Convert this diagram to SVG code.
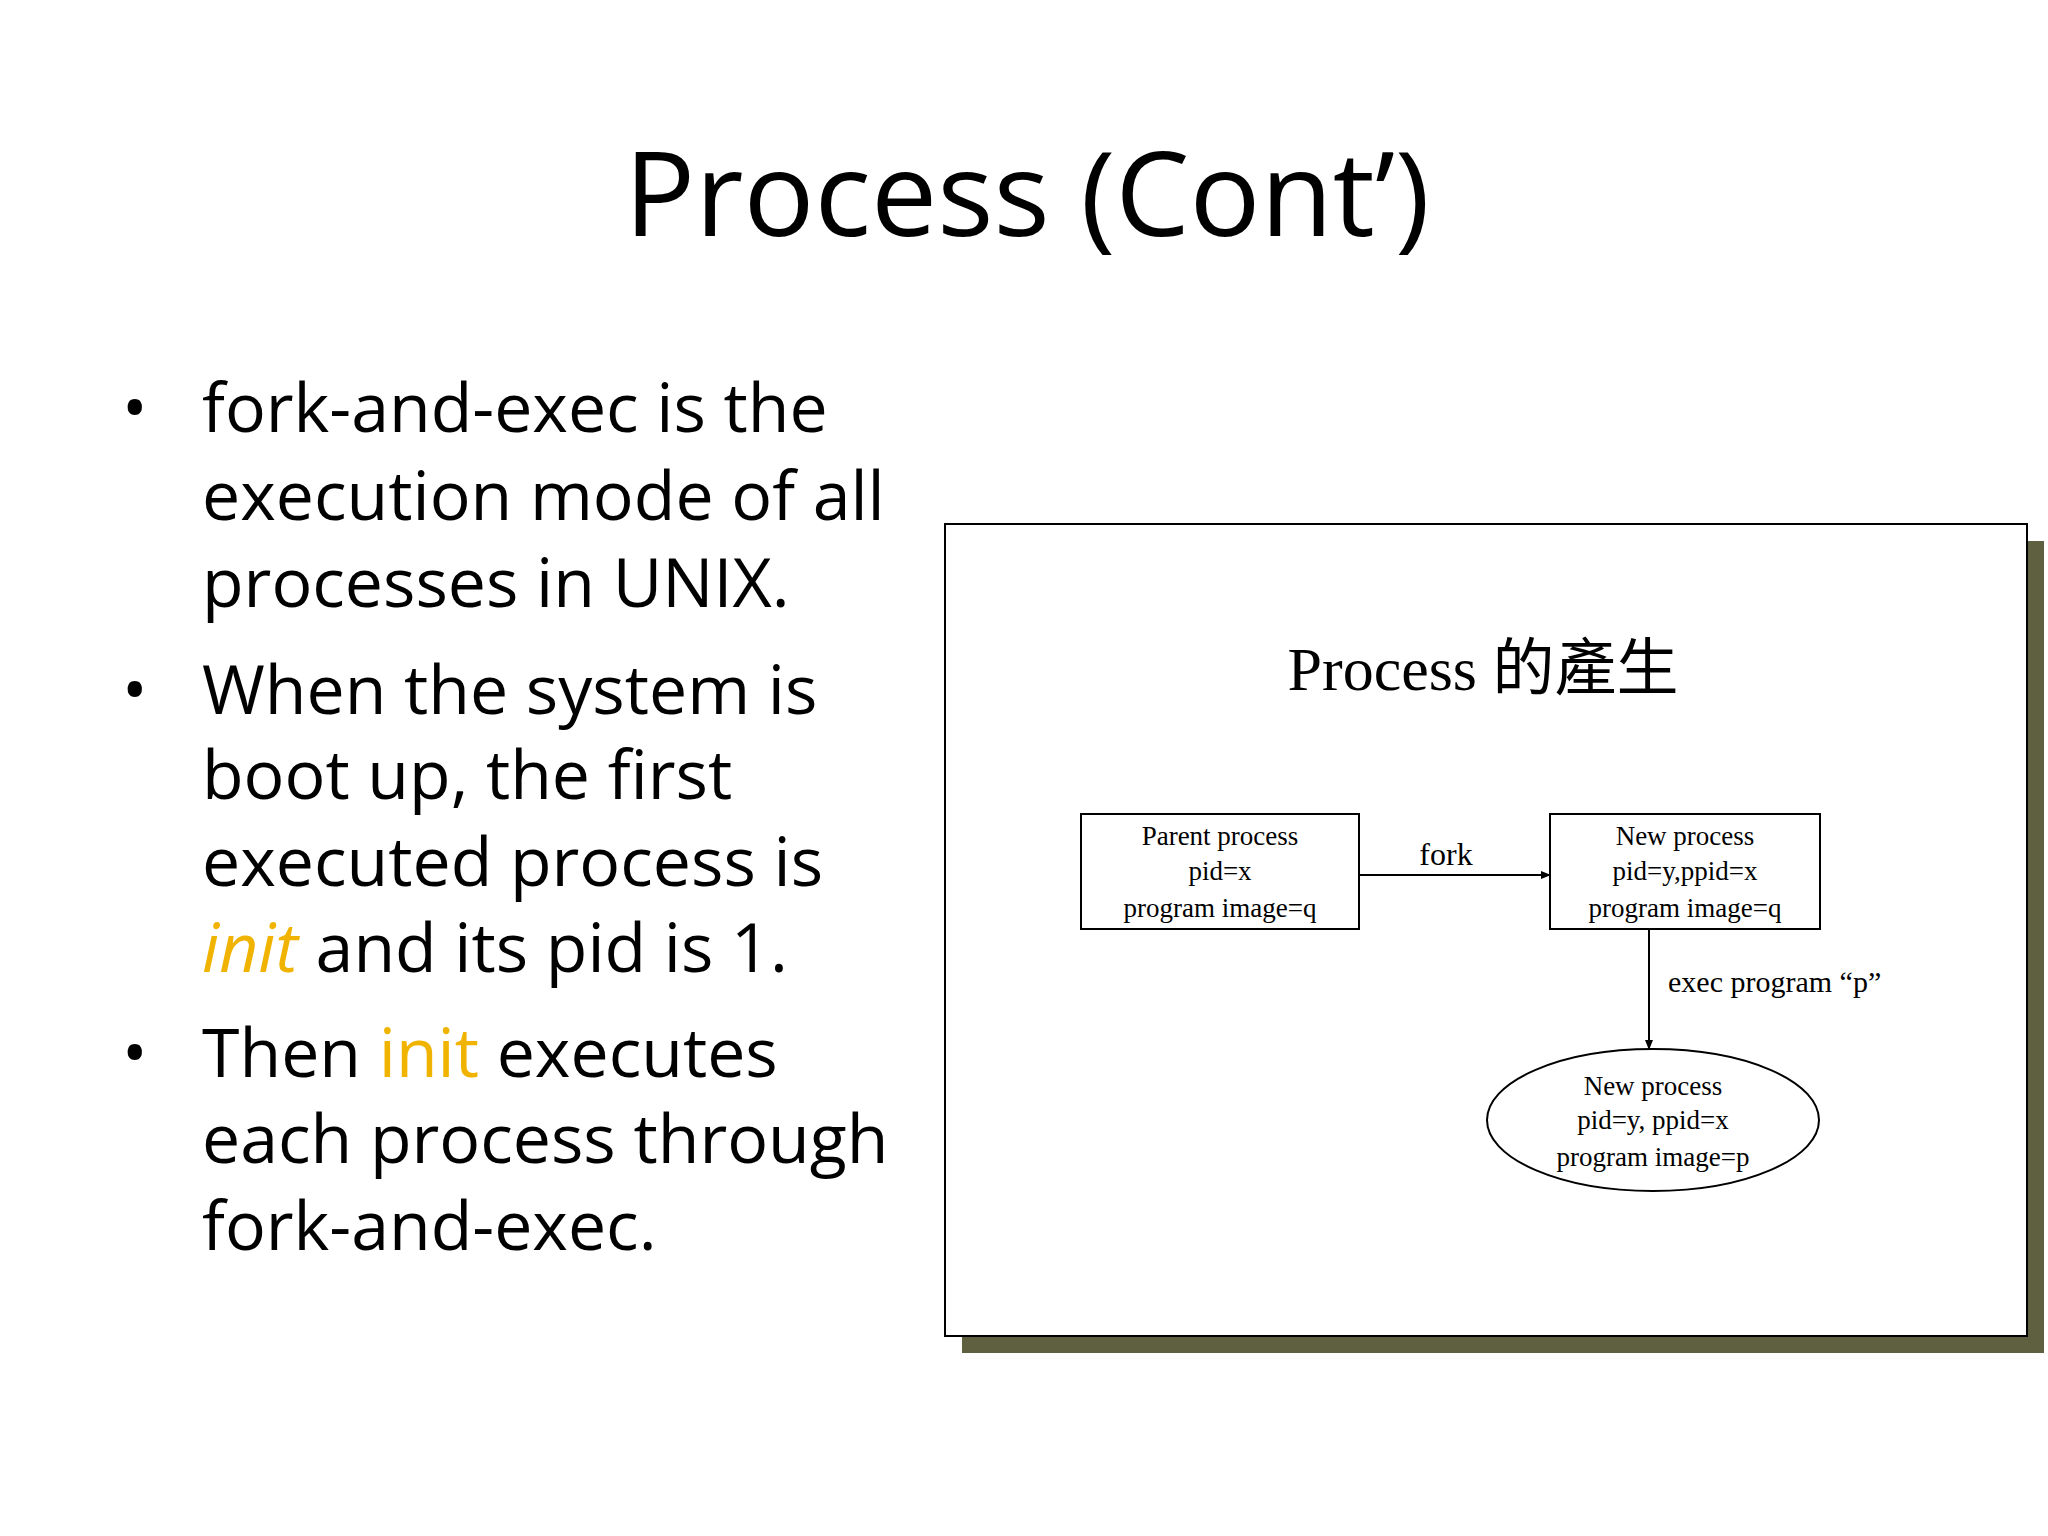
<svg xmlns="http://www.w3.org/2000/svg" width="2048" height="1536" viewBox="0 0 2048 1536">
<style>
.b{font-family:"Open Sans","Noto Sans",sans-serif;font-size:68px;fill:#000}
.s{font-family:"Liberation Serif","Noto Sans CJK TC",serif;fill:#000}
.n{font-size:27px;text-anchor:middle}
.y{fill:#f0b400}
</style>
<defs><marker id="a" markerWidth="10" markerHeight="10" refX="9" refY="5" orient="auto" markerUnits="userSpaceOnUse"><path d="M0,1 L10,5 L0,9 z" fill="#000"/></marker></defs>
<rect width="2048" height="1536" fill="#fff"/>
<text x="1027" y="236" text-anchor="middle" font-family="Open Sans,Noto Sans,sans-serif" font-size="118">Process (Cont’)</text>
<g class="b">
<text x="122" y="432">•</text><text x="202" y="432">fork-and-exec is the</text>
<text x="202" y="520">execution mode of all</text>
<text x="202" y="607">processes in UNIX.</text>
<text x="122" y="714">•</text><text x="202" y="714">When the system is</text>
<text x="202" y="799">boot up, the first</text>
<text x="202" y="886">executed process is</text>
<text x="202" y="972"><tspan class="y" font-style="italic">init</tspan> and its pid is 1.</text>
<text x="122" y="1077">•</text><text x="202" y="1077">Then <tspan class="y">init</tspan> executes</text>
<text x="202" y="1163">each process through</text>
<text x="202" y="1250">fork-and-exec.</text>
</g>
<g id="frame">
<rect x="962" y="541" width="1082" height="812" fill="#5f6040"/>
<rect x="945" y="524" width="1082" height="812" fill="#fff" stroke="#000" stroke-width="2"/>
<text class="s" x="1483" y="690" text-anchor="middle" font-size="62">Process 的產生</text>
</g>
<g id="parent">
<rect x="1081" y="814" width="278" height="115" fill="none" stroke="#000" stroke-width="2"/>
<text class="s n" x="1220" y="845">Parent process</text>
<text class="s n" x="1220" y="880">pid=x</text>
<text class="s n" x="1220" y="917">program image=q</text>
</g>
<g id="child">
<rect x="1550" y="814" width="270" height="115" fill="none" stroke="#000" stroke-width="2"/>
<text class="s n" x="1685" y="845">New process</text>
<text class="s n" x="1685" y="880">pid=y,ppid=x</text>
<text class="s n" x="1685" y="917">program image=q</text>
</g>
<g id="exec">
<ellipse cx="1653" cy="1120" rx="166" ry="71" fill="none" stroke="#000" stroke-width="2"/>
<text class="s n" x="1653" y="1095">New process</text>
<text class="s n" x="1653" y="1129">pid=y, ppid=x</text>
<text class="s n" x="1653" y="1166">program image=p</text>
</g>
<g id="connectors" stroke="#000" stroke-width="2" fill="none">
<line x1="1359" y1="875" x2="1550" y2="875" marker-end="url(#a)"/>
<line x1="1649" y1="929" x2="1649" y2="1049" marker-end="url(#a)"/>
</g>
<text class="s" x="1446" y="865" text-anchor="middle" font-size="32">fork</text>
<text class="s" x="1668" y="992" font-size="30">exec program “p”</text>
</svg>
